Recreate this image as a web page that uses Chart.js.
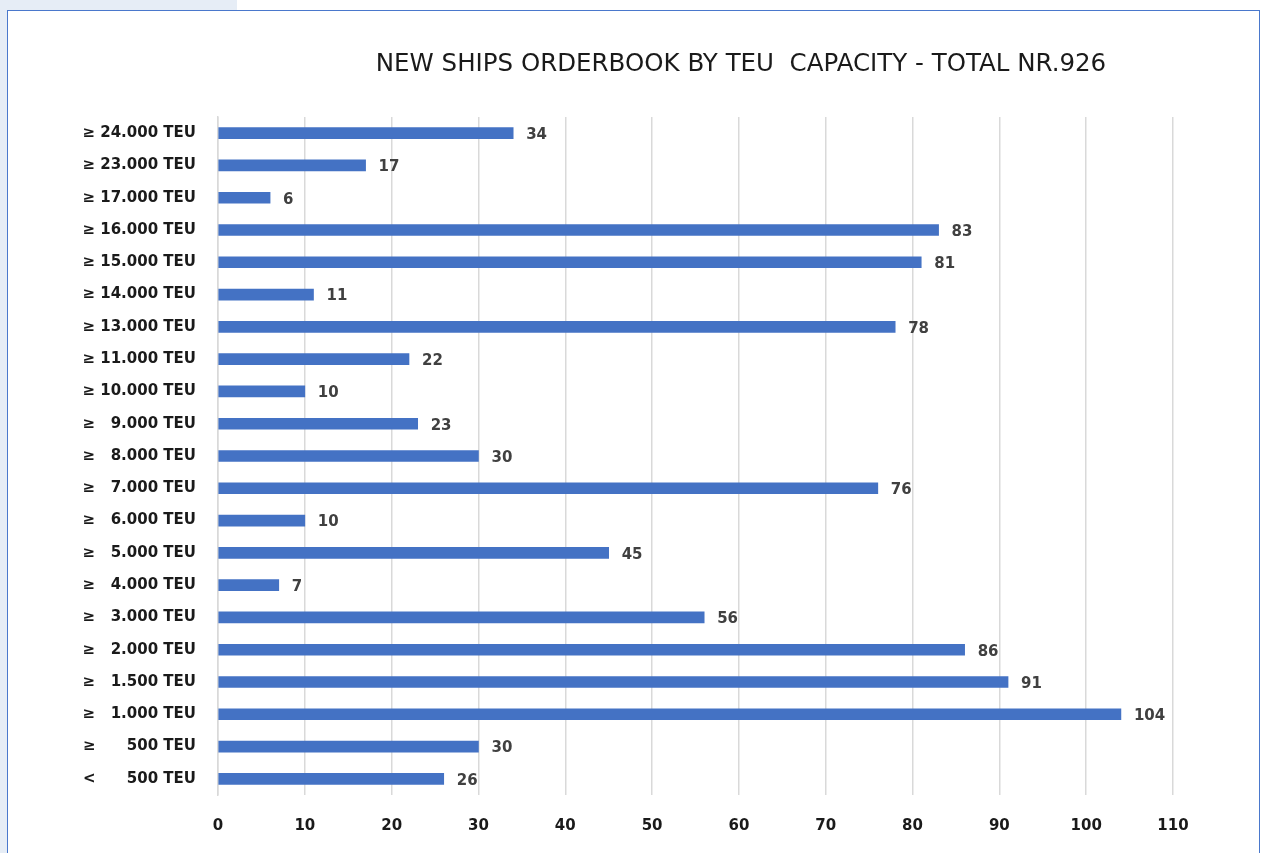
<!DOCTYPE html>
<html>
<head>
<meta charset="utf-8">
<script src="https://cdn.jsdelivr.net/npm/chart.js@4.4.1/dist/chart.umd.min.js"></script>
<style>
  html, body { margin: 0; padding: 0; background: #ffffff; }
  body { width: 1265px; height: 853px; position: relative; overflow: hidden; }
  #tab { position: absolute; left: 0; top: 0; width: 237px; height: 11px; background: #e6edf6; }
  #side { position: absolute; left: 0; top: 0; width: 7px; height: 853px; background: #e6edf6; }
  #frame { position: absolute; left: 7px; top: 10px; width: 1253px; height: 860px; border: 1.5px solid #4a78cc; box-sizing: border-box; background: #ffffff; }
  #wrap { position: absolute; left: 0; top: 0; width: 1265px; height: 853px; }
</style>
</head>
<body>
<div id="tab"></div>
<div id="side"></div>
<div id="frame"></div>
<div id="wrap"><canvas id="c" width="1265" height="853"></canvas></div>
<script>
const chartTitle = 'NEW SHIPS ORDERBOOK BY TEU  CAPACITY - TOTAL NR.926';

const categories = [
  '\u2265 24.000 TEU', '\u2265 23.000 TEU', '\u2265 17.000 TEU', '\u2265 16.000 TEU',
  '\u2265 15.000 TEU', '\u2265 14.000 TEU', '\u2265 13.000 TEU', '\u2265 11.000 TEU',
  '\u2265 10.000 TEU', '\u2265   9.000 TEU', '\u2265   8.000 TEU', '\u2265   7.000 TEU',
  '\u2265   6.000 TEU', '\u2265   5.000 TEU', '\u2265   4.000 TEU', '\u2265   3.000 TEU',
  '\u2265   2.000 TEU', '\u2265   1.500 TEU', '\u2265   1.000 TEU', '\u2265      500 TEU',
  '<      500 TEU'
];

const shipCounts = [34, 17, 6, 83, 81, 11, 78, 22, 10, 23, 30, 76, 10, 45, 7, 56, 86, 91, 104, 30, 26];

const xTickValues = [0, 10, 20, 30, 40, 50, 60, 70, 80, 90, 100, 110];

const FONT = "'DejaVu Sans', 'Open Sans', sans-serif";

// Title centred over the plot, drawn above the bars
const titlePlugin = {
  id: 'orderTitle',
  afterDraw(chart) {
    const ctx = chart.ctx;
    ctx.save();
    ctx.font = '24.5px ' + FONT;
    ctx.fillStyle = '#1a1a1a';
    ctx.textAlign = 'center';
    ctx.textBaseline = 'middle';
    ctx.fillText(chartTitle, 741, 65);
    ctx.restore();
  }
};

// Value labels at the end of each bar
const valueLabels = {
  id: 'valueLabels',
  afterDatasetsDraw(chart) {
    const ctx = chart.ctx;
    const meta = chart.getDatasetMeta(0);
    ctx.save();
    ctx.font = 'bold 15px ' + FONT;
    ctx.fillStyle = '#404040';
    ctx.textAlign = 'left';
    ctx.textBaseline = 'middle';
    meta.data.forEach((bar, i) => {
      ctx.fillText(String(shipCounts[i]), bar.x + 13, bar.y + 2);
    });
    ctx.restore();
  }
};

new Chart(document.getElementById('c'), {
  type: 'bar',
  data: {
    labels: categories,
    datasets: [{
      data: shipCounts,
      backgroundColor: '#4472c4',
      borderWidth: 0,
      barThickness: 11
    }]
  },
  options: {
    indexAxis: 'y',
    responsive: false,
    animation: false,
    layout: { padding: { top: 117, right: 92, left: 0, bottom: 0 } },
    plugins: {
      legend: { display: false },
      tooltip: { enabled: false },
      title: { display: false }
    },
    scales: {
      x: {
        type: 'linear',
        min: 0,
        max: 110,
        afterBuildTicks(scale) { scale.ticks = xTickValues.map(v => ({ value: v })); },
        afterFit(scale) { scale.height = 58; },
        grid: { color: '#d9d9d9', lineWidth: 1.5, drawTicks: false },
        border: { display: false },
        ticks: {
          padding: 22,
          color: '#1a1a1a',
          font: { family: FONT, size: 15, weight: 'bold' }
        }
      },
      y: {
        afterFit(scale) { scale.width = 218; },
        grid: { display: false, drawTicks: false },
        border: { display: true, color: '#d9d9d9', width: 1.5 },
        ticks: {
          padding: 22,
          color: '#1a1a1a',
          font: { family: FONT, size: 15, weight: 'bold' }
        }
      }
    }
  },
  plugins: [titlePlugin, valueLabels]
});
</script>
</body>
</html>
